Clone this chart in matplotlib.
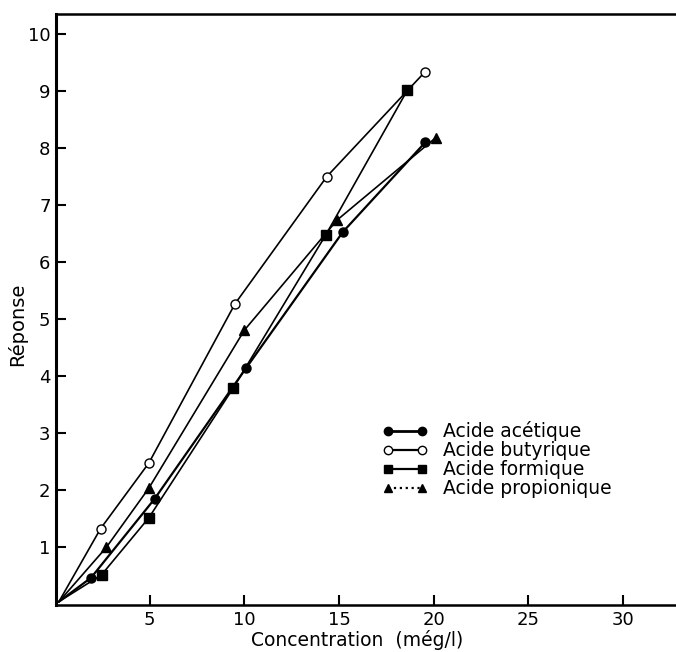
import matplotlib
matplotlib.use("Agg")
import matplotlib.pyplot as plt
from matplotlib.lines import Line2D

# Concentration (még/l) et réponse
acetique_x = [0.2, 1.9, 5.25, 10.1, 15.2, 19.55]
acetique_y = [0.05, 0.47, 1.85, 4.15, 6.53, 8.10]

butyrique_x = [0.2, 2.4, 4.95, 9.5, 14.35, 19.55]
butyrique_y = [0.05, 1.33, 2.48, 5.27, 7.50, 9.34]

formique_x = [0.2, 2.45, 4.95, 9.4, 14.3, 18.6]
formique_y = [0.05, 0.52, 1.52, 3.79, 6.48, 9.01]

propionique_x = [0.2, 2.7, 4.95, 10.0, 14.9, 20.1]
propionique_y = [0.05, 1.00, 2.04, 4.81, 6.74, 8.18]

series = [
    ("Acide acétique", acetique_x, acetique_y, "o", "black", 1.6, "-"),
    ("Acide butyrique", butyrique_x, butyrique_y, "o", "white", 1.2, "-"),
    ("Acide formique", formique_x, formique_y, "s", "black", 1.2, "-"),
    ("Acide propionique", propionique_x, propionique_y, "^", "black", 1.2, ":"),
]

plt.rcParams['font.family'] = ['DejaVu Sans']

fig = plt.figure(figsize=(6.76, 6.52), dpi=100)
ax = fig.add_axes([0.083, 0.072, 0.917, 0.9065])

handles = []
for label, xs, ys, marker, face, lw, legend_ls in series:
    ax.plot(xs, ys, color="black", lw=lw, zorder=2)
    ax.plot(xs[1:], ys[1:], linestyle="none", marker=marker, markersize=6.5,
            markerfacecolor=face, markeredgecolor="black", markeredgewidth=1.0, zorder=3)
    handles.append(Line2D([0], [0], color="black", lw=lw + 0.4, linestyle=legend_ls,
                          marker=marker, markersize=6, markerfacecolor=face,
                          markeredgecolor="black", label=label))

ax.set_xlim(0.05, 32.8)
ax.set_ylim(-0.01, 10.35)
ax.set_xticks([5, 10, 15, 20, 25, 30])
ax.set_yticks(range(1, 11))
ax.tick_params(direction="in", length=7, width=1.5, labelsize=13, pad=4)

ax.spines["right"].set_visible(False)
ax.spines["left"].set_linewidth(2.2)
ax.spines["bottom"].set_linewidth(1.8)
ax.spines["top"].set_linewidth(1.8)

ax.set_xlabel("Concentration  (még/l)", fontsize=13.5)
ax.set_ylabel("Réponse", fontsize=14)
ax.xaxis.set_label_coords(0.485, -0.043)
ax.yaxis.set_label_coords(-0.046, 0.475)

ax.legend(handles=handles, loc="upper left", bbox_to_anchor=(0.552, 0.368),
          bbox_transform=fig.transFigure, frameon=False, fontsize=13.5,
          handlelength=2.4, handletextpad=0.8, labelspacing=0.0, numpoints=2,
          borderpad=0)

fig.savefig("out.png", dpi=100)
